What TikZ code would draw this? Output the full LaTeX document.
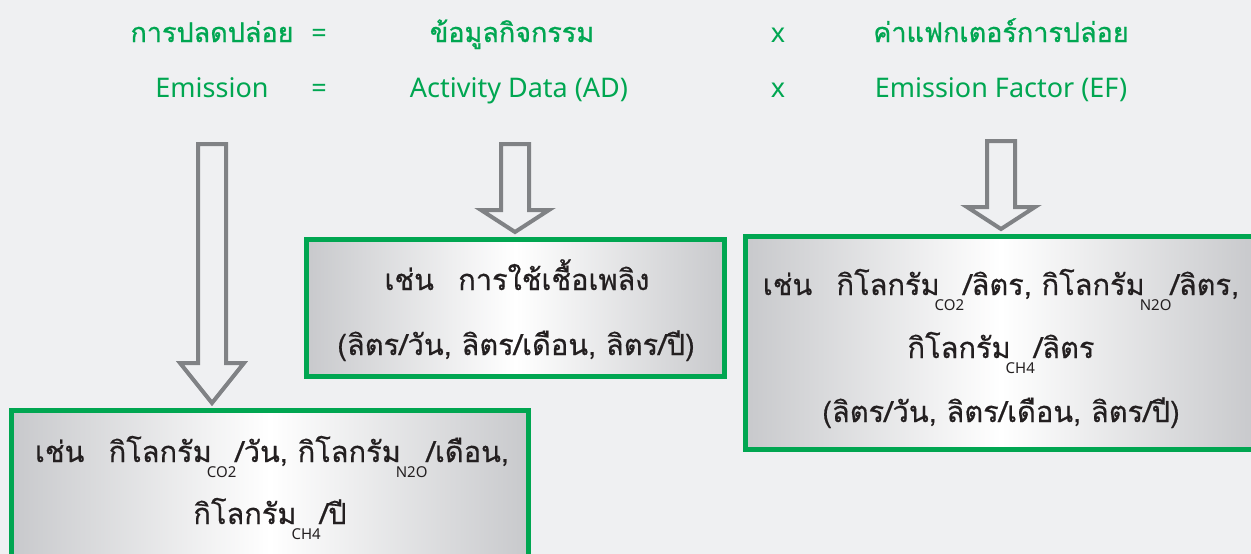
\documentclass[tikz,border=0pt]{standalone}
\usepackage{fontspec}
\setmainfont{Noto Sans}
\newfontfamily\thai[Script=Thai,FakeBold=0.9]{Loma}
\newfontfamily\thaibox[Script=Thai,FakeBold=0.5]{Loma}
\usetikzlibrary{calc}
\definecolor{bg}{RGB}{239,240,242}
\definecolor{grn}{RGB}{0,166,81}
\definecolor{arr}{RGB}{128,130,133}
\definecolor{txt}{RGB}{35,31,32}
\definecolor{edge}{RGB}{200,201,204}
\tikzset{
  headth/.style={text=grn, font=\fontsize{27}{30}\selectfont\thai, anchor=base, inner sep=0pt},
  headen/.style={text=grn, font=\fontsize{27}{30}\selectfont, anchor=base, inner sep=0pt},
  boxed/.style={draw=grn, line width=5pt, left color=edge, right color=edge, middle color=white, inner sep=0pt},
  line/.style={text=txt, font=\fontsize{29}{32}\selectfont\thaibox, anchor=base, inner sep=0pt},
  blk/.style={draw=arr, line width=4pt, fill=bg, miter limit=10},
}
\newcommand\sbs[1]{\hspace{-5pt}\raisebox{-15pt}{\fontsize{15}{15}\selectfont\rmfamily #1}\hspace{-1pt}}
\newcommand\blockarrow[5]{%
  \draw[blk] let \p1=(#1), \p2=($(#1 |- #2.north)+(0,-5)$) in
  (\x1-#3,\y1) -- (\x1-#3,\y2+#5) -- (\x1-#4,\y2+#5) -- (\x2,\y2) --
  (\x1+#4,\y2+#5) -- (\x1+#3,\y2+#5) -- (\x1+#3,\y1) -- cycle;}
\begin{document}
\begin{tikzpicture}[x=1pt,y=-1pt]
\fill[bg] (0,0) rectangle (1251,554);
\useasboundingbox (0,0) rectangle (1251,554);
% header
\node[headth] (h1) at (212,42) {การปลดปล่อย};
\node[headen] (eq1) at (319,42) {=};
\node[headth] (h2) at (512,42) {ข้อมูลกิจกรรม};
\node[headen] (x1) at (778,42) {x};
\node[headth] (h3) at (1001,42) {ค่าแฟกเตอร์การปล่อย};
\node[headen] (e1) at (212,97) {Emission};
\node[headen] (eq2) at (319,97) {=};
\node[headen] (e2) at (519,97) {Activity Data (AD)};
\node[headen] (x2) at (778,97) {x};
\node[headen] (e3) at (1001,97) {Emission Factor (EF)};
% boxes
\node[boxed, minimum width=517, minimum height=147] (b1) at (270,484) {};
\node[boxed, minimum width=418, minimum height=137] (b2) at (515.5,308) {};
\node[boxed, minimum width=511, minimum height=213] (b3) at (1001,343) {};
% box texts
\node[line] (b1l1) at (272,462) {เช่น\hspace{0.5em} กิโลกรัม\sbs{CO2}/วัน, กิโลกรัม\sbs{N2O}/เดือน,};
\node[line] (b1l2) at (270,524) {กิโลกรัม\sbs{CH4}/ปี};
\node[line] (b2l1) at (517,290) {เช่น\hspace{0.5em} การใช้เชื้อเพลิง};
\node[line] (b2l2) at (516,355) {(ลิตร/วัน, ลิตร/เดือน, ลิตร/ปี)};
\node[line] (b3l1) at (1001,295) {เช่น\hspace{0.5em} กิโลกรัม\sbs{CO2}/ลิตร, กิโลกรัม\sbs{N2O}/ลิตร,};
\node[line] (b3l2) at (1001,358) {กิโลกรัม\sbs{CH4}/ลิตร};
\node[line] (b3l3) at (1001,422) {(ลิตร/วัน, ลิตร/เดือน, ลิตร/ปี)};
% arrows
\coordinate (t1) at (212,144);
\coordinate (t2) at (515,144);
\coordinate (t3) at (1001,141);
\blockarrow{t1}{b1}{14pt}{32pt}{40pt}
\blockarrow{t2}{b2}{14pt}{34pt}{22pt}
\blockarrow{t3}{b3}{14pt}{34pt}{22pt}
\end{tikzpicture}
\end{document}
